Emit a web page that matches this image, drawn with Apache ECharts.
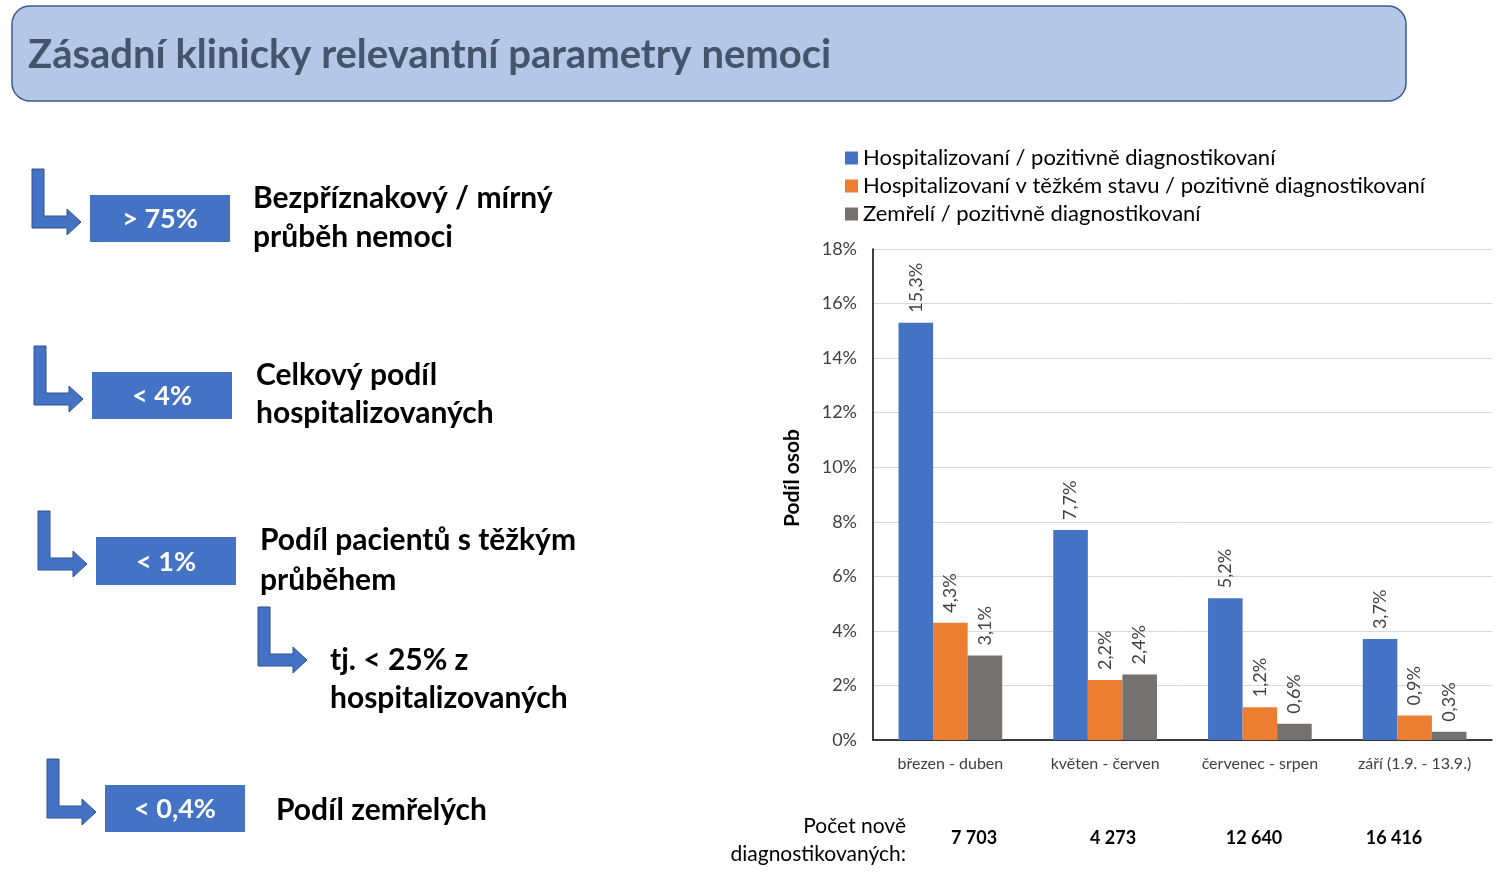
<!DOCTYPE html>
<html>
<head>
<meta charset="utf-8">
<script src="https://cdn.jsdelivr.net/npm/echarts@6/dist/echarts.min.js"></script>
<style>
html,body{margin:0;padding:0;background:#fff;}
#main{width:1504px;height:872px;}
</style>
</head>
<body>
<div id="main"></div>
<script>
const categories = ['březen - duben', 'květen - červen', 'červenec - srpen', 'září (1.9. - 13.9.)'];
const seriesNames = ['Hospitalizovaní / pozitivně diagnostikovaní', 'Hospitalizovaní v těžkém stavu / pozitivně diagnostikovaní', 'Zemřelí / pozitivně diagnostikovaní'];
const hospitalized = [15.3, 7.7, 5.2, 3.7];
const severe = [4.3, 2.2, 1.2, 0.9];
const deceased = [3.1, 2.4, 0.6, 0.3];
const newCases = ['7 703', '4 273', '12 640', '16 416'];
const titleText = 'Zásadní klinicky relevantní parametry nemoci';
const boxLabels = ['> 75%', '< 4%', '< 1%', '< 0,4%'];
const descLines = [['Bezpříznakový / mírný', 'průběh nemoci'], ['Celkový podíl', 'hospitalizovaných'], ['Podíl pacientů s těžkým', 'průběhem'], ['Podíl zemřelých']];
const subNote = ['tj. < 25% z', 'hospitalizovaných'];

const FONT = 'Lato';
const colors = ['#4472C4', '#ED7D31', '#767171'];

function arrowShape(x, y) {
  const p = [[0,0],[12,0],[12,47],[35,47],[35,40],[49,53],[35,66],[35,59],[0,59]];
  return {
    type: 'polygon',
    shape: { points: p.map(q => [q[0] + x, q[1] + y]) },
    style: { fill: '#4472C4', stroke: '#2F528F', lineWidth: 1 }
  };
}
function box(x, y, w, h, label) {
  return [
    { type: 'rect', shape: { x: x, y: y, width: w, height: h }, style: { fill: '#4472C4' } },
    { type: 'text', x: x + w / 2, y: y + h / 2 + 1, style: { text: label, fill: '#fff', font: 'bold 27px ' + FONT, align: 'center', verticalAlign: 'middle' } }
  ];
}
function txt(x, y, s, font, align) {
  return { type: 'text', x: x, y: y, style: { text: s, fill: '#000', font: font, align: align || 'left', verticalAlign: 'middle' } };
}

const graphics = [];
graphics.push({ type: 'rect', shape: { x: 12, y: 6, width: 1394, height: 95, r: 18 }, style: { fill: '#B4C7E7', stroke: '#3B5B8E', lineWidth: 1.5 } });
graphics.push({ type: 'text', x: 28, y: 55, style: { text: titleText, fill: '#44546A', font: 'bold 40px ' + FONT, verticalAlign: 'middle' } });

const arrowPos = [[32,169],[34,346],[38,511],[47,759]];
const boxPos = [[90,195,140,47],[92,372,140,47],[96,537,140,48],[105,785,140,47]];
const descPos = [[253,198,39],[256,375,38],[260,540,40],[276,810,0]];
for (let i = 0; i < 4; i++) {
  graphics.push(arrowShape(arrowPos[i][0], arrowPos[i][1]));
  graphics.push(...box(boxPos[i][0], boxPos[i][1], boxPos[i][2], boxPos[i][3], boxLabels[i]));
  descLines[i].forEach((line, j) => {
    graphics.push(txt(descPos[i][0], descPos[i][1] + j * descPos[i][2], line, 'bold 30px ' + FONT));
  });
}
graphics.push(arrowShape(258, 607));
graphics.push(txt(330, 660, subNote[0], 'bold 30px ' + FONT));
graphics.push(txt(330, 698, subNote[1], 'bold 30px ' + FONT));

graphics.push(txt(906, 826, 'Počet nově', '21px ' + FONT, 'right'));
graphics.push(txt(906, 854, 'diagnostikovaných:', '21px ' + FONT, 'right'));
const countX = [974, 1113, 1254, 1394];
newCases.forEach((c, i) => graphics.push(txt(countX[i], 838, c, 'bold 18px ' + FONT, 'center')));

graphics.push({ type: 'text', x: 792, y: 478, rotation: Math.PI / 2, style: { text: 'Podíl osob', fill: '#000', font: 'bold 21px ' + FONT, align: 'center', verticalAlign: 'middle' } });

const fmt = p => String(p.value).replace('.', ',') + '%';
function barSeries(name, data, color) {
  return {
    name: name, type: 'bar', data: data, barGap: '0%', barCategoryGap: '33%',
    itemStyle: { color: color },
    label: { show: true, position: 'top', rotate: 90, align: 'left', verticalAlign: 'middle', distance: 10, formatter: fmt, color: '#404040', fontSize: 18, fontFamily: FONT }
  };
}

const chart = echarts.init(document.getElementById('main'));
chart.setOption({
  animation: false,
  textStyle: { fontFamily: FONT },
  legend: {
    orient: 'vertical', left: 840, top: 142, itemWidth: 13, itemHeight: 13, itemGap: 6,
    icon: 'rect', data: seriesNames,
    textStyle: { fontSize: 22, color: '#000', fontFamily: FONT }
  },
  grid: { left: 873, right: 12, top: 249, bottom: 132 },
  xAxis: {
    type: 'category', data: categories,
    axisLine: { lineStyle: { color: '#000', width: 1.5 } },
    axisTick: { show: false },
    axisLabel: { interval: 0, hideOverlap: false, color: '#404040', fontSize: 16, margin: 16, fontFamily: FONT }
  },
  yAxis: {
    type: 'value', min: 0, max: 18, interval: 2,
    axisLine: { show: true, lineStyle: { color: '#000', width: 1.5 } },
    axisLabel: { formatter: '{value}%', color: '#404040', fontSize: 18, margin: 16, fontFamily: FONT },
    splitLine: { lineStyle: { color: '#D9D9D9' } }
  },
  series: [
    barSeries(seriesNames[0], hospitalized, colors[0]),
    barSeries(seriesNames[1], severe, colors[1]),
    barSeries(seriesNames[2], deceased, colors[2])
  ],
  graphic: { elements: graphics }
});
</script>
</body>
</html>
